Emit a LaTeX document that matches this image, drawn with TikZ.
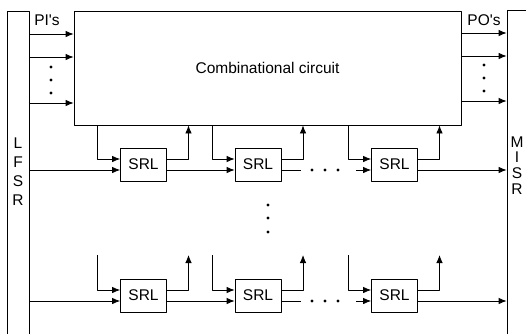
\documentclass[tikz,border=0pt]{standalone}
\usepackage{fontspec}
\setmainfont{Liberation Sans}
\usetikzlibrary{arrows.meta,calc}

\begin{document}
\begin{tikzpicture}[x=1pt, y=-1pt, line width=0.8pt, line join=round,
		font=\fontsize{15.5}{18}\selectfont, >={Latex[length=8pt,width=6.5pt]},
		srl/.style={draw, minimum width=46pt, minimum height=33pt, inner sep=0pt}]
				\useasboundingbox (0,0) rectangle (526,333);
				\clip (0,0) rectangle (526,333);
				\node[draw, minimum width=22pt, minimum height=340pt] (lfsr) at (18,181) {};
				\node[draw, minimum width=40pt, minimum height=340pt] (misr) at (527,180) {};
				\node[draw, minimum width=387pt, minimum height=114pt] (cc) at (267.5,68) {Combinational circuit};
				\foreach \t/\y in {L/143,F/162,S/181,R/200}
				\node (l\t) at (18,\y) {\t};
				\foreach \t/\y in {M/142,I/157,S/173,R/189}
				\node (m\t) at (517,\y) {\t};
				\node (pi) at (47,20) {PI\textquotesingle s};
				\node (po) at (484,20) {PO\textquotesingle s};
				\foreach \y in {34,57,103}
				\draw[->] (lfsr.east |- 0,\y) -- (cc.west |- 0,\y);
				\foreach \y in {33,56,101}
				\draw[->] (cc.east |- 0,\y) -- (misr.west |- 0,\y);
				\foreach \y in {67,80,93}
				{\fill (51,\y) circle(1.6pt); \fill (484,\y-2) circle(1.6pt);}
				\foreach \y in {205,218,232}
				\fill (268,\y) circle(1.6pt);
				\coordinate (top) at (0,255);
				\foreach \r/\t/\y in {a/cc.south/164.5,b/top/295.5}{
						\foreach \n/\x in {1/143.5,2/258,3/394.5}{
								\node[srl] (\r\n) at (\x,\y) {SRL};
								\coordinate (i\r\n) at (\x-46,\y-5.5);
								\coordinate (o\r\n) at (\x+45,\y-5.5);
								\draw[->] (i\r\n |- \t) -- (i\r\n) -- (\r\n.west |- i\r\n);
								\draw[->] (\r\n.east |- o\r\n) -- (o\r\n) -- (o\r\n |- \t);
							}
						\coordinate (p\r) at (0,\y+5.5);
						\coordinate (g\r) at (301,\y+5.5);
						\coordinate (h\r) at (356,\y+5.5);
						\draw[->] (lfsr.east |- p\r) -- (\r1.west |- p\r);
						\draw[->] (\r1.east |- p\r) -- (\r2.west |- p\r);
						\draw (\r2.east |- p\r) -- (g\r);
						\draw[->] (h\r) -- (\r3.west |- p\r);
						\draw[->] (\r3.east |- p\r) -- (misr.west |- p\r);
						\foreach \x in {312,325,338}
						\fill (\x,\y+5.5) circle(1.6pt);
					}
		\end{tikzpicture}
\end{document}
